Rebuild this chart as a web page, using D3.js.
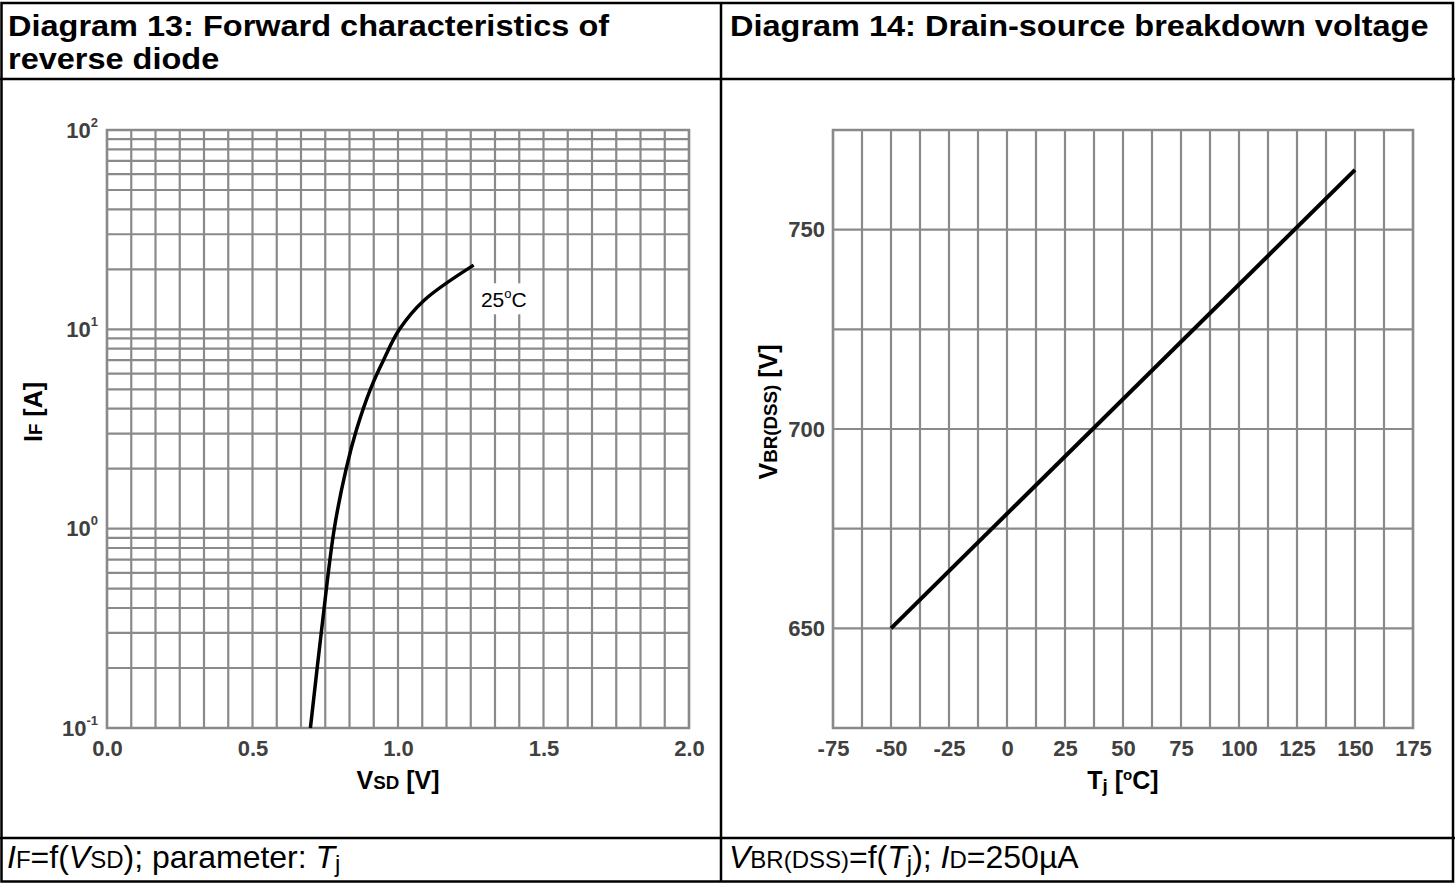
<!DOCTYPE html>
<html><head><meta charset="utf-8">
<script src="https://cdn.jsdelivr.net/npm/d3@7"></script>
<style>
html,body{margin:0;padding:0;background:#fff;}
svg{display:block;font-family:"Liberation Sans",Arial,sans-serif;}
</style></head>
<body>
<svg id="chart" width="1455" height="883"></svg>
<script>
// ---------- data ----------
const diodeVsd = [0.699, 0.738, 0.781, 0.822, 0.858, 0.905, 0.950, 1.005, 1.090, 1.26];
const diodeIf  = [0.1,   0.316, 1.0,   2.0,   3.16,  5.0,   7.0,   10.0,  14.0,  21.0];
const diodeXTicks = [0.0, 0.5, 1.0, 1.5, 2.0];
const diodeYTicks = [0.1, 1, 10, 100];
const diodeYExps  = ["-1", "0", "1", "2"];
const diodeCurveLabel = "25";

const bdTj  = [-50, 150];
const bdVbr = [650, 765];
const bdXTicks = [-75, -50, -25, 0, 25, 50, 75, 100, 125, 150, 175];
const bdYTicks = [650, 700, 750];

const titleLeft1 = "Diagram 13: Forward characteristics of";
const titleLeft2 = "reverse diode";
const titleRight = "Diagram 14: Drain-source breakdown voltage";

// ---------- setup ----------
const svg = d3.select("#chart");
const GRID = "#8a8a8a", LBL = "#404040";
const TICK_FS = 22, TITLE_FS = 25, SUB = "0.75em";
const border = svg.append("g").attr("stroke", "#000").attr("stroke-width", 2.5).attr("fill", "none");
border.append("rect").attr("x", 1.5).attr("y", 3).attr("width", 1451.5).attr("height", 878.5);
border.append("line").attr("x1", 721).attr("x2", 721).attr("y1", 3).attr("y2", 882);
border.append("line").attr("x1", 0).attr("x2", 1455).attr("y1", 79).attr("y2", 79);
border.append("line").attr("x1", 0).attr("x2", 1455).attr("y1", 838).attr("y2", 838);

// headers: slightly widened bold text, as in the reference
const HDR_STRETCH = 1.12;
const hdr = svg.append("g").attr("font-weight", "bold").attr("font-size", 29).attr("fill", "#000");
[[titleLeft1, 8, 36], [titleLeft2, 8, 68.5], [titleRight, 730, 36]].forEach(([s, x, y]) => {
  const t = hdr.append("text").attr("x", x).attr("y", y).text(s);
  const w = t.node().getComputedTextLength();
  t.attr("textLength", w * HDR_STRETCH).attr("lengthAdjust", "spacingAndGlyphs");
});

function styleAxis(a) {
  a.select(".domain").remove();
  a.selectAll("text").attr("font-family", "Liberation Sans, Arial, sans-serif")
    .attr("font-size", TICK_FS).attr("font-weight", "bold").attr("fill", LBL);
}

// ---------- left chart ----------
const L = {x0: 107, x1: 689, y0: 130, y1: 728};
const xL = d3.scaleLinear().domain([0, 2]).range([L.x0, L.x1]);
const yL = d3.scaleLog().domain([0.1, 100]).range([L.y1, L.y0]);
const gl = svg.append("g");
const vGridL = d3.range(0, 25).map(i => i * 2 / 24);
gl.selectAll("line.v").data(vGridL).join("line")
  .attr("x1", d => xL(d)).attr("x2", d => xL(d)).attr("y1", L.y0).attr("y2", L.y1)
  .attr("stroke", GRID).attr("stroke-width", 2.2);
const hGridL = [];
[-1, 0, 1].forEach(e => { for (let k = 1; k <= 9; k++) hGridL.push(k * Math.pow(10, e)); });
hGridL.push(100);
gl.selectAll("line.h").data(hGridL).join("line")
  .attr("x1", L.x0).attr("x2", L.x1).attr("y1", d => yL(d)).attr("y2", d => yL(d))
  .attr("stroke", GRID).attr("stroke-width", 2.2);
gl.append("rect").attr("x", L.x0).attr("y", L.y0).attr("width", L.x1 - L.x0).attr("height", L.y1 - L.y0)
  .attr("fill", "none").attr("stroke", GRID).attr("stroke-width", 2.5);

const axXL = gl.append("g").attr("transform", `translate(0,${L.y1})`)
  .call(d3.axisBottom(xL).tickValues(diodeXTicks).tickFormat(d3.format(".1f")).tickSize(0).tickPadding(12));
const axYL = gl.append("g").attr("transform", `translate(${L.x0},0)`)
  .call(d3.axisLeft(yL).tickValues(diodeYTicks).tickFormat(() => "").tickSize(0).tickPadding(9));
styleAxis(axXL); styleAxis(axYL);
axYL.selectAll("text").each(function(d, i) {
  const t = d3.select(this);
  t.append("tspan").text("10");
  t.append("tspan").attr("dy", -11).attr("font-size", 13).text(diodeYExps[i]);
});

// curve
const diodePts = diodeVsd.map((v, i) => [v, diodeIf[i]]);
const lineL = d3.line().x(d => xL(d[0])).y(d => yL(d[1])).curve(d3.curveCatmullRom.alpha(0.5));
gl.append("path").datum(diodePts).attr("d", lineL).attr("fill", "none")
  .attr("stroke", "#000").attr("stroke-width", 3.5);

// curve label
const lblG = gl.append("g");
const lbl = lblG.append("text").attr("x", xL(1.285)).attr("y", yL(12.9)).attr("font-size", 21).attr("fill", "#000");
lbl.append("tspan").text(diodeCurveLabel);
lbl.append("tspan").attr("dy", -9).attr("font-size", 13).text("o");
lbl.append("tspan").attr("dy", 9).text("C");
const bb = lbl.node().getBBox();
lblG.insert("rect", "text").attr("x", bb.x - 5).attr("y", bb.y - 3).attr("width", bb.width + 10).attr("height", bb.height + 6).attr("fill", "#fff");

// axis titles
const xtL = gl.append("text").attr("x", (L.x0 + L.x1) / 2).attr("y", 789).attr("text-anchor", "middle")
  .attr("font-size", TITLE_FS).attr("font-weight", "bold").attr("fill", "#000");
xtL.append("tspan").text("V");
xtL.append("tspan").attr("font-size", SUB).text("SD");
xtL.append("tspan").text(" [V]");
const ytL = gl.append("text").attr("transform", `translate(42,412) rotate(-90)`)
  .attr("text-anchor", "middle").attr("font-size", TITLE_FS).attr("font-weight", "bold").attr("fill", "#000");
ytL.append("tspan").text("I");
ytL.append("tspan").attr("font-size", SUB).text("F");
ytL.append("tspan").text(" [A]");

// ---------- right chart ----------
const R = {x0: 833, x1: 1413, y0: 130, y1: 728};
const xR = d3.scaleLinear().domain([-75, 175]).range([R.x0, R.x1]);
const yR = d3.scaleLinear().domain([625, 775]).range([R.y1, R.y0]);
const gr = svg.append("g");
gr.selectAll("line.v").data(d3.range(-75, 175.1, 12.5)).join("line")
  .attr("x1", d => xR(d)).attr("x2", d => xR(d)).attr("y1", R.y0).attr("y2", R.y1)
  .attr("stroke", GRID).attr("stroke-width", 2.2);
gr.selectAll("line.h").data(d3.range(625, 775.1, 25)).join("line")
  .attr("x1", R.x0).attr("x2", R.x1).attr("y1", d => yR(d)).attr("y2", d => yR(d))
  .attr("stroke", GRID).attr("stroke-width", 2.2);
gr.append("rect").attr("x", R.x0).attr("y", R.y0).attr("width", R.x1 - R.x0).attr("height", R.y1 - R.y0)
  .attr("fill", "none").attr("stroke", GRID).attr("stroke-width", 2.5);
const axXR = gr.append("g").attr("transform", `translate(0,${R.y1})`)
  .call(d3.axisBottom(xR).tickValues(bdXTicks).tickFormat(d => String(d)).tickSize(0).tickPadding(12));
const axYR = gr.append("g").attr("transform", `translate(${R.x0},0)`)
  .call(d3.axisLeft(yR).tickValues(bdYTicks).tickFormat(d => String(d)).tickSize(0).tickPadding(8));
styleAxis(axXR); styleAxis(axYR);
const bdPts = bdTj.map((t, i) => [t, bdVbr[i]]);
gr.append("path").datum(bdPts).attr("d", d3.line().x(d => xR(d[0])).y(d => yR(d[1])))
  .attr("fill", "none").attr("stroke", "#000").attr("stroke-width", 4);

const xtR = gr.append("text").attr("x", (R.x0 + R.x1) / 2).attr("y", 789).attr("text-anchor", "middle")
  .attr("font-size", TITLE_FS).attr("font-weight", "bold").attr("fill", "#000");
xtR.append("tspan").text("T");
xtR.append("tspan").attr("font-size", SUB).attr("dy", 3).text("j");
xtR.append("tspan").attr("dy", -3).text(" [");
xtR.append("tspan").attr("font-size", 15).attr("dy", -9).text("o");
xtR.append("tspan").attr("dy", 9).text("C]");
const ytR = gr.append("text").attr("transform", `translate(777,412) rotate(-90)`)
  .attr("text-anchor", "middle").attr("font-size", TITLE_FS).attr("font-weight", "bold").attr("fill", "#000");
ytR.append("tspan").text("V");
ytR.append("tspan").attr("font-size", SUB).text("BR(DSS)");
ytR.append("tspan").text(" [V]");

// ---------- footers ----------
const FOOT_FS = 32;
const f1 = svg.append("text").attr("x", 7).attr("y", 868).attr("font-size", FOOT_FS).attr("fill", "#000");
f1.append("tspan").attr("font-style", "italic").text("I");
f1.append("tspan").attr("font-size", SUB).text("F");
f1.append("tspan").text("=f(");
f1.append("tspan").attr("font-style", "italic").text("V");
f1.append("tspan").attr("font-size", SUB).text("SD");
f1.append("tspan").text("); parameter: ");
f1.append("tspan").attr("font-style", "italic").text("T");
f1.append("tspan").attr("font-size", SUB).attr("dy", 4).text("j");

const f2 = svg.append("text").attr("x", 729).attr("y", 868).attr("font-size", FOOT_FS).attr("fill", "#000");
f2.append("tspan").attr("font-style", "italic").text("V");
f2.append("tspan").attr("font-size", SUB).text("BR(DSS)");
f2.append("tspan").text("=f(");
f2.append("tspan").attr("font-style", "italic").text("T");
f2.append("tspan").attr("font-size", SUB).attr("dy", 4).text("j");
f2.append("tspan").attr("dy", -4).text("); ");
f2.append("tspan").attr("font-style", "italic").text("I");
f2.append("tspan").attr("font-size", SUB).text("D");
f2.append("tspan").text("=250µA");
</script>
</body></html>
